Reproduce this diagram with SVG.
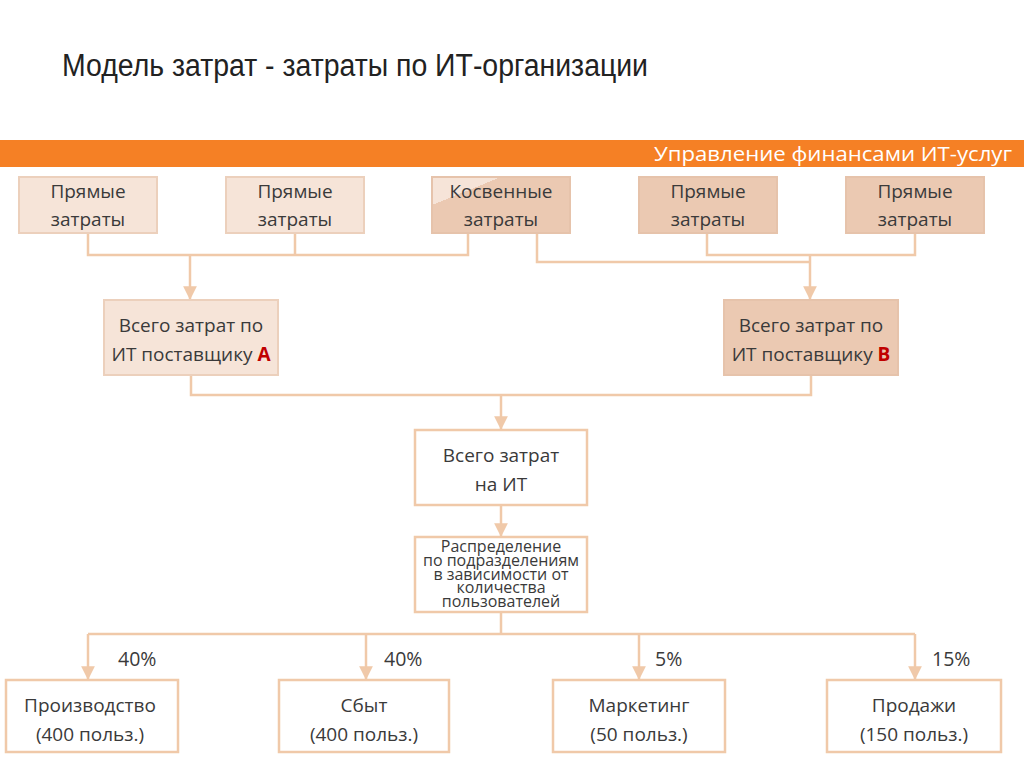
<svg xmlns="http://www.w3.org/2000/svg" width="1024" height="767" viewBox="0 0 1024 767">
<defs>
<style>
.t{font-family:"Open Sans","Noto Sans","DejaVu Sans",sans-serif;font-size:19px;fill:#3a3a3a;text-anchor:middle}
.s{font-family:"Open Sans","Noto Sans","DejaVu Sans",sans-serif;font-size:16px;fill:#3a3a3a;text-anchor:middle}
.p{font-family:"Open Sans","Noto Sans","DejaVu Sans",sans-serif;font-size:19.5px;fill:#3a3a3a}
.r{fill:#c00000;font-weight:bold}
.lt{fill:#f6e4d8;stroke:#ecd0bc;stroke-width:2}
.dk{fill:#ebc9b2;stroke:#e6c3ab;stroke-width:2}
.wh{fill:#ffffff;stroke:#f0c9a9;stroke-width:2.5}
.ln{fill:none;stroke:#f0c9a9;stroke-width:2.5}
</style>
<marker id="ah" viewBox="0 0 10 10" refX="10" refY="5" markerWidth="5.5" markerHeight="5.5" orient="auto" markerUnits="strokeWidth">
<path d="M0,0 L10,5 L0,10 Z" fill="#f0c9a9"/>
</marker>
<linearGradient id="kg" x1="0" y1="0" x2="1" y2="1">
<stop offset="0" stop-color="#f6e4d8"/>
<stop offset="0.25" stop-color="#f6e4d8"/>
<stop offset="0.25" stop-color="#ebc9b2"/>
<stop offset="1" stop-color="#ebc9b2"/>
</linearGradient>
</defs>
<rect width="1024" height="767" fill="#ffffff"/>
<text x="62" y="76" font-family="Liberation Sans, Arial, sans-serif" font-size="31" fill="#222" textLength="586" lengthAdjust="spacingAndGlyphs">Модель затрат - затраты по ИТ-организации</text>
<rect x="0" y="140" width="1024" height="27" fill="#f58025"/>
<text x="1012" y="161" font-family="Open Sans, Noto Sans, sans-serif" font-size="20" fill="#ffffff" text-anchor="end" textLength="358" lengthAdjust="spacingAndGlyphs">Управление финансами ИТ-услуг</text>

<g id="connectors">
<path class="ln" d="M88,233 V255 H468 V233 M295,233 V255"/>
<path class="ln" d="M190,255 V300" marker-end="url(#ah)"/>
<path class="ln" d="M707,233 V255 H915 V233 M537,233 V262 H810"/>
<path class="ln" d="M810,255 V300" marker-end="url(#ah)"/>
<path class="ln" d="M191,375 V395 H811 V375"/>
<path class="ln" d="M501,395 V430" marker-end="url(#ah)"/>
<path class="ln" d="M501,505 V537" marker-end="url(#ah)"/>
<path class="ln" d="M501,612 V634 M88,634 H915"/>
<path class="ln" d="M88,634 V680" marker-end="url(#ah)"/>
<path class="ln" d="M366,634 V680" marker-end="url(#ah)"/>
<path class="ln" d="M639,634 V680" marker-end="url(#ah)"/>
<path class="ln" d="M915,634 V680" marker-end="url(#ah)"/>
<text class="p" x="118" y="666">40%</text>
<text class="p" x="384" y="666">40%</text>
<text class="p" x="655" y="666">5%</text>
<text class="p" x="932" y="666">15%</text>
</g>

<g id="n1"><rect class="lt" x="19" y="177" width="138" height="56"/><text class="t" x="88" y="198">Прямые</text><text class="t" x="88" y="226">затраты</text></g>
<g id="n2"><rect class="lt" x="226" y="177" width="138" height="56"/><text class="t" x="295" y="198">Прямые</text><text class="t" x="295" y="226">затраты</text></g>
<g id="n3"><rect x="432" y="177" width="138" height="56" fill="url(#kg)" stroke="#e6c3ab" stroke-width="2"/><text class="t" x="501" y="198">Косвенные</text><text class="t" x="501" y="226">затраты</text></g>
<g id="n4"><rect class="dk" x="639" y="177" width="138" height="56"/><text class="t" x="708" y="198">Прямые</text><text class="t" x="708" y="226">затраты</text></g>
<g id="n5"><rect class="dk" x="846" y="177" width="138" height="56"/><text class="t" x="915" y="198">Прямые</text><text class="t" x="915" y="226">затраты</text></g>

<g id="nA"><rect class="lt" x="104" y="300" width="174" height="75"/><text class="t" x="191" y="332">Всего затрат по</text><text class="t" x="191" y="361">ИТ поставщику <tspan class="r">А</tspan></text></g>
<g id="nB"><rect class="dk" x="724" y="300" width="174" height="75"/><text class="t" x="811" y="332">Всего затрат по</text><text class="t" x="811" y="361">ИТ поставщику <tspan class="r">В</tspan></text></g>

<g id="nTotal"><rect class="wh" x="415" y="430" width="172" height="75"/><text class="t" x="501" y="462">Всего затрат</text><text class="t" x="501" y="491">на ИТ</text></g>
<g id="nDist"><rect class="wh" x="415" y="537" width="172" height="75"/>
<text class="s" x="501" y="552">Распределение</text>
<text class="s" x="501" y="566">по подразделениям</text>
<text class="s" x="501" y="580">в зависимости от</text>
<text class="s" x="501" y="593">количества</text>
<text class="s" x="501" y="607">пользователей</text></g>

<g id="nProd"><rect class="wh" x="6" y="680" width="172" height="72"/><text class="t" x="90" y="712">Производство</text><text class="t" x="90" y="741">(400 польз.)</text></g>
<g id="nSbyt"><rect class="wh" x="279" y="680" width="170" height="72"/><text class="t" x="364" y="712">Сбыт</text><text class="t" x="364" y="741">(400 польз.)</text></g>
<g id="nMark"><rect class="wh" x="553" y="680" width="172" height="72"/><text class="t" x="639" y="712">Маркетинг</text><text class="t" x="639" y="741">(50 польз.)</text></g>
<g id="nSales"><rect class="wh" x="827" y="680" width="174" height="72"/><text class="t" x="914" y="712">Продажи</text><text class="t" x="914" y="741">(150 польз.)</text></g>
</svg>
